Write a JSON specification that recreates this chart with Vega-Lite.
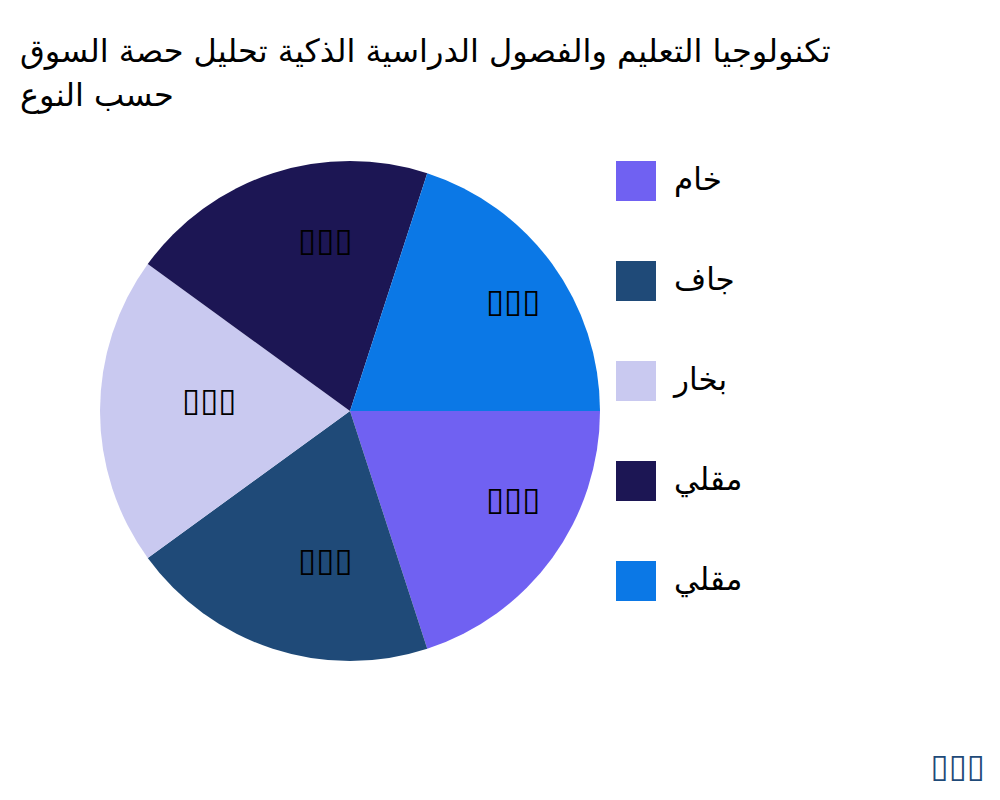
{
  "$schema": "https://vega.github.io/schema/vega-lite/v6.json",
  "width": 500,
  "height": 500,
  "padding": {"left": 20, "top": 36, "right": 0, "bottom": 0},
  "background": "white",
  "title": {
    "text": ["تكنولوجيا التعليم والفصول الدراسية الذكية تحليل حصة السوق", "حسب النوع"],
    "anchor": "start",
    "dx": -80,
    "font": "DejaVu Sans",
    "fontSize": 32,
    "fontWeight": "normal",
    "color": "black",
    "lineHeight": 44,
    "offset": 48
  },
  "config": {"view": {"stroke": null}},
  "data": {
    "values": [
      {"id": 1, "key": "1|خام", "type": "خام", "value": 20, "label": "▯▯▯"},
      {"id": 2, "key": "2|جاف", "type": "جاف", "value": 20, "label": "▯▯▯"},
      {"id": 3, "key": "3|بخار", "type": "بخار", "value": 20, "label": "▯▯▯"},
      {"id": 4, "key": "4|مقلي", "type": "مقلي", "value": 20, "label": "▯▯▯"},
      {"id": 5, "key": "5|مقلي", "type": "مقلي", "value": 20, "label": "▯▯▯"}
    ]
  },
  "layer": [
    {
      "mark": {"type": "arc", "outerRadius": 250},
      "encoding": {
        "theta": {"field": "value", "type": "quantitative", "stack": true, "scale": {"range": [1.5707963, 7.8539816]}},
        "color": {
          "field": "key",
          "type": "nominal",
          "scale": {
            "domain": ["1|خام", "2|جاف", "3|بخار", "4|مقلي", "5|مقلي"],
            "range": ["#7061F2", "#1F4A78", "#C9C9F0", "#1C1654", "#0B78E6"]
          },
          "legend": {
            "title": null,
            "orient": "right",
            "offset": 16,
            "padding": 0,
            "symbolType": "square",
            "symbolSize": 1600,
            "symbolStrokeWidth": 0,
            "labelFont": "DejaVu Sans",
            "labelFontSize": 31,
            "labelColor": "black",
            "labelOffset": 18,
            "rowPadding": 60,
            "labelExpr": "split(datum.value, '|')[1]"
          }
        },
        "order": {"field": "id", "type": "quantitative"}
      }
    },
    {
      "mark": {"type": "text", "radius": 168, "align": "left", "baseline": "alphabetic", "font": "DejaVu Sans", "fontSize": 33, "color": "black"},
      "encoding": {
        "theta": {"field": "value", "type": "quantitative", "stack": true},
        "detail": {"field": "key", "type": "nominal"},
        "order": {"field": "id", "type": "quantitative"},
        "text": {"field": "label", "type": "nominal"}
      }
    },
    {
      "data": {"values": [{"note": "▯▯▯"}]},
      "mark": {"type": "text", "align": "right", "baseline": "alphabetic", "font": "DejaVu Sans", "fontSize": 33, "color": "#1F4A78", "dx": 385, "dy": 116},
      "encoding": {
        "x": {"value": "width"},
        "y": {"value": "height"},
        "text": {"field": "note", "type": "nominal"}
      }
    }
  ]
}
